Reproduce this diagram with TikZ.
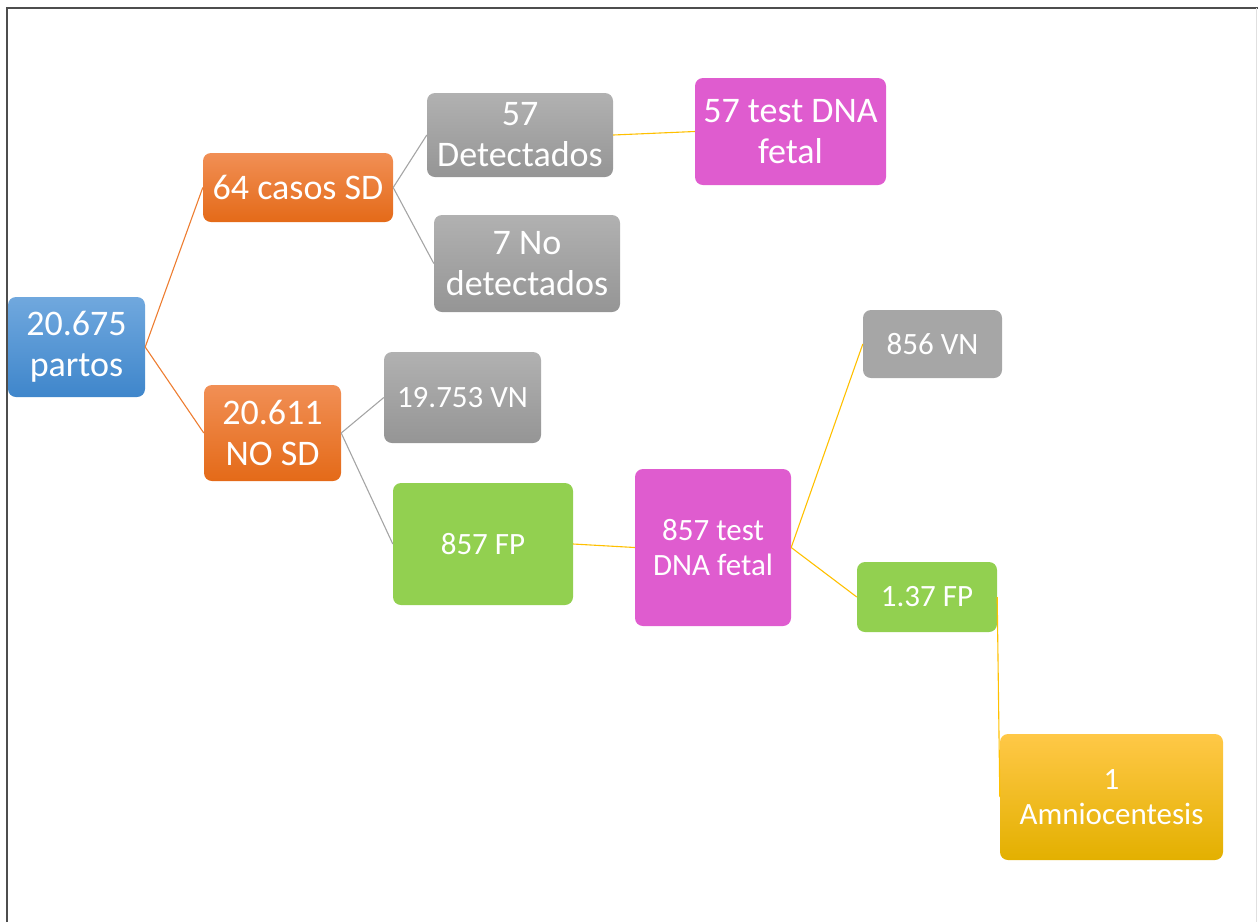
\documentclass[tikz,border=0pt]{standalone}
\usepackage{fontspec}
\setmainfont{Carlito}
\usepackage{xcolor}
\usepackage{tikz}

\definecolor{frameline}{HTML}{4D4D4D}
\definecolor{blueTop}{HTML}{70A8DE}
\definecolor{blueBot}{HTML}{3F86CB}
\definecolor{orangeTop}{HTML}{F18F55}
\definecolor{orangeBot}{HTML}{E46A18}
\definecolor{greyTop}{HTML}{B1B1B1}
\definecolor{greyBot}{HTML}{959595}
\definecolor{greyFlat}{HTML}{A6A6A6}
\definecolor{pinkFlat}{HTML}{DF5CCF}
\definecolor{greenFlat}{HTML}{92D050}
\definecolor{goldTop}{HTML}{FFC847}
\definecolor{goldMid}{HTML}{FFC400}
\definecolor{goldBot}{HTML}{E3B000}
\definecolor{orangeLine}{HTML}{ED7D31}
\definecolor{greyLine}{HTML}{A5A5A5}
\definecolor{goldLine}{HTML}{FFC000}

\begin{document}
\begin{tikzpicture}[x=1pt,y=-1pt]

        \tikzstyle{box}=[rounded corners=8pt,inner sep=0pt,align=center,text=white]
        \tikzstyle{bigtxt}=[font=\fontsize{36}{41}\selectfont]
        \tikzstyle{smalltxt}=[font=\fontsize{31}{35}\selectfont]
        \tikzstyle{bluebox}=[box,top color=blueTop,bottom color=blueBot]
        \tikzstyle{orangebox}=[box,top color=orangeTop,bottom color=orangeBot]
        \tikzstyle{greybox}=[box,top color=greyTop,bottom color=greyBot]
        \tikzstyle{pinkbox}=[box,fill=pinkFlat]
        \tikzstyle{greenbox}=[box,fill=greenFlat]
        \tikzstyle{goldbox}=[box,top color=goldTop,middle color=goldMid,bottom color=goldBot]
        \tikzstyle{branch}=[line width=1.1pt]

        \useasboundingbox (0,0) rectangle (1258,922);

        %% page frame
        \draw[frameline,line width=2pt] (7,922) -- (7,7.5) -- (1258,7.5);
        \draw[black!12,line width=0.8pt] (1256.5,8) -- (1256.5,922);

        %% first level
        \node[bluebox,bigtxt,minimum width=137pt,minimum height=100pt] (partos) at (76.5,347) {20.675\\partos};
        \node[orangebox,bigtxt,minimum width=190pt,minimum height=69pt] (sd) at (298,187.5) {64 casos SD};
        \node[orangebox,bigtxt,minimum width=137pt,minimum height=96pt] (nosd) at (272.5,433) {20.611\\NO SD};

        %% SD branch
        \node[greybox,bigtxt,minimum width=186pt,minimum height=84pt] (det) at (520,135) {57\\Detectados};
        \node[greybox,bigtxt,minimum width=186pt,minimum height=97pt] (nodet) at (527,263.5) {7 No\\detectados};
        \node[pinkbox,bigtxt,minimum width=191pt,minimum height=107pt] (dna1) at (790.5,131.5) {57 test DNA\\fetal};

        %% NO SD branch
        \node[greybox,smalltxt,minimum width=157pt,minimum height=91pt] (vn1) at (462.5,397.5) {19.753 VN};
        \node[greenbox,smalltxt,minimum width=180pt,minimum height=122pt] (fp1) at (483,544) {857 FP};
        \node[pinkbox,smalltxt,minimum width=156pt,minimum height=157pt] (dna2) at (713,547.5) {857 test\\DNA fetal};
        \node[box,fill=greyFlat,smalltxt,minimum width=139pt,minimum height=68pt] (vn2) at (932.5,344) {856 VN};
        \node[greenbox,smalltxt,minimum width=140pt,minimum height=70pt] (fp2) at (927,597) {1.37 FP};
        \node[goldbox,smalltxt,minimum width=223pt,minimum height=126pt] (amnio) at (1111.5,797) {1\\Amniocentesis};

        %% connectors
        \draw[branch,orangeLine] (partos.east) -- (sd.west);
        \draw[branch,orangeLine] (partos.east) -- (nosd.west);
        \draw[branch,greyLine] (sd.east) -- (det.west);
        \draw[branch,greyLine] (sd.east) -- (nodet.west);
        \draw[branch,goldLine] (det.east) -- (dna1.west);
        \draw[branch,greyLine] (nosd.east) -- (vn1.west);
        \draw[branch,greyLine] (nosd.east) -- (fp1.west);
        \draw[branch,goldLine] (fp1.east) -- (dna2.west);
        \draw[branch,goldLine] (dna2.east) -- (vn2.west);
        \draw[branch,goldLine] (dna2.east) -- (fp2.west);
        \draw[branch,goldLine] (fp2.east) -- (amnio.west);

\end{tikzpicture}
\end{document}
